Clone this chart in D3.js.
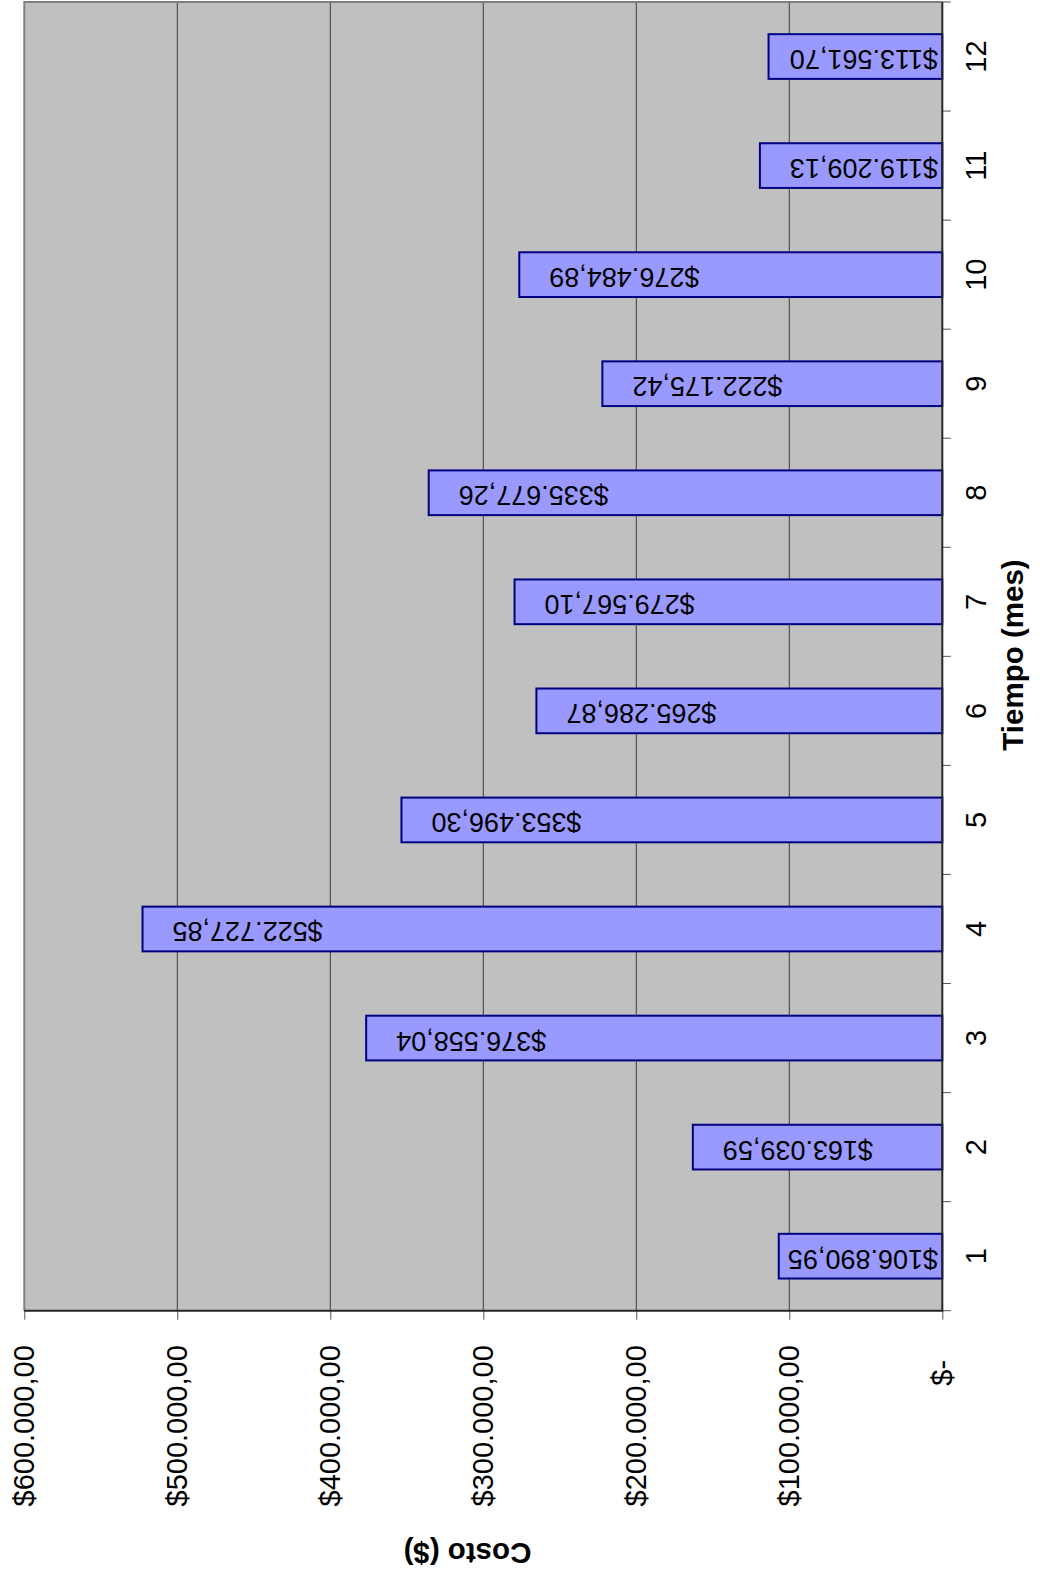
<!DOCTYPE html>
<html>
<head>
<meta charset="utf-8">
<script src="https://cdn.jsdelivr.net/npm/d3@7"></script>
<style>
  html, body { margin: 0; padding: 0; background: #ffffff; }
  svg { display: block; }
</style>
</head>
<body>
<script>
// ---- data ----
const categories = ["1","2","3","4","5","6","7","8","9","10","11","12"];
const costs = [106890.95, 163039.59, 376558.04, 522727.85, 353496.30, 265286.87,
               279567.10, 335677.26, 222175.42, 276484.89, 119209.13, 113561.70];
const valueTicks = [0, 100000, 200000, 300000, 400000, 500000, 600000];
const categoryTitle = "Tiempo (mes)";
const valueTitle = "Costo ($)";

// ---- layout ----
const W = 1040, H = 1585;
const plot = { left: 24.3, right: 942.3, top: 2, bottom: 1310.7 };
const FONT = "'Liberation Sans', Arial, Helvetica, sans-serif";

const locale = d3.formatLocale({ decimal: ",", thousands: ".", grouping: [3], currency: ["$", ""] });
const money = locale.format("$,.2f");
const tickFmt = v => v === 0 ? "$-" : money(v);

const svg = d3.select("body").append("svg")
  .attr("width", W).attr("height", H)
  .style("font-family", FONT);

const x = d3.scaleLinear().domain([0, 600000]).range([plot.right, plot.left]);
const y = d3.scaleBand().domain(categories)
  .range([plot.bottom, plot.top])
  .paddingInner(0.59).paddingOuter(0.295);

// plot background
svg.append("rect")
  .attr("x", plot.left).attr("y", plot.top)
  .attr("width", plot.right - plot.left).attr("height", plot.bottom - plot.top)
  .attr("fill", "#C0C0C0");

// gridlines
svg.append("g").selectAll("line")
  .data(valueTicks.filter(v => v > 0 && v < 600000))
  .join("line")
  .attr("x1", d => x(d)).attr("x2", d => x(d))
  .attr("y1", plot.top).attr("y2", plot.bottom)
  .attr("stroke", "#3c3c3c").attr("stroke-width", 1);

// plot border (gray) on far sides
svg.append("path")
  .attr("d", `M${plot.left},${plot.bottom}V${plot.top}H${plot.right}`)
  .attr("fill", "none").attr("stroke", "#808080").attr("stroke-width", 2);

// bars
svg.append("g").selectAll("rect")
  .data(categories.map((c, i) => ({ c, v: costs[i] })))
  .join("rect")
  .attr("x", d => x(d.v))
  .attr("width", d => x(0) - x(d.v))
  .attr("y", d => y(d.c))
  .attr("height", y.bandwidth())
  .attr("fill", "#9999FF")
  .attr("stroke", "#000080")
  .attr("stroke-width", 2);

// data labels (rotated 180deg)
const labels = svg.append("g").selectAll("text")
  .data(categories.map((c, i) => ({ c, v: costs[i] })))
  .join("text")
  .attr("font-size", 27)
  .attr("fill", "#000")
  .attr("text-anchor", "start")
  .text(d => money(d.v));
labels.each(function(d) {
  const len = this.getComputedTextLength();
  const sx = Math.min(x(d.v) + 30 + len, 938);
  const cy = y(d.c) + y.bandwidth() / 2 - 6.5;
  d3.select(this).attr("transform", `translate(${sx},${cy}) rotate(180)`);
});

// value axis (bottom in picture)
const vAxis = svg.append("g")
  .attr("transform", `translate(0,${plot.bottom})`)
  .call(d3.axisBottom(x).tickValues(valueTicks).tickSize(9).tickFormat(tickFmt));
vAxis.select(".domain").remove();
vAxis.attr("font-family", FONT).attr("font-size", 29);
vAxis.selectAll(".tick line").attr("stroke", "#555").attr("stroke-width", 1);
vAxis.selectAll(".tick text")
  .attr("fill", "#000")
  .attr("transform", "rotate(-90)")
  .attr("text-anchor", "end")
  .attr("dy", null)
  .attr("y", 9.5)
  .attr("x", d => d === 0 ? -49.2 : -34.5);

// category axis (right in picture)
const cAxis = svg.append("g")
  .attr("transform", `translate(${plot.right},0)`)
  .call(d3.axisRight(y).tickSize(0).tickPadding(0));
cAxis.select(".domain").remove();
cAxis.attr("font-family", FONT).attr("font-size", 29);
cAxis.selectAll(".tick text")
  .attr("fill", "#000")
  .attr("transform", "rotate(-90)")
  .attr("text-anchor", "middle")
  .attr("dy", null)
  .attr("x", 0)
  .attr("y", 44.2);

// category boundary ticks
const gap = y.step() - y.bandwidth();
const bounds = categories.map(c => y(c) - gap / 2).concat([plot.bottom]);
svg.append("g").selectAll("line")
  .data(bounds)
  .join("line")
  .attr("x1", plot.right).attr("x2", plot.right + 8.5)
  .attr("y1", d => d).attr("y2", d => d)
  .attr("stroke", "#555").attr("stroke-width", 1);

// axis lines
svg.append("path")
  .attr("d", `M${plot.left},${plot.bottom}H${plot.right}V${plot.top}`)
  .attr("fill", "none").attr("stroke", "#262626").attr("stroke-width", 2);

// titles
svg.append("text")
  .attr("transform", `translate(1022.5,655) rotate(-90)`)
  .attr("text-anchor", "middle")
  .attr("font-size", 29.5).attr("font-weight", "bold")
  .text(categoryTitle);

svg.append("text")
  .attr("transform", `translate(467.5,1543) rotate(180)`)
  .attr("text-anchor", "middle")
  .attr("font-size", 29.5).attr("font-weight", "bold")
  .text(valueTitle);
</script>
</body>
</html>
